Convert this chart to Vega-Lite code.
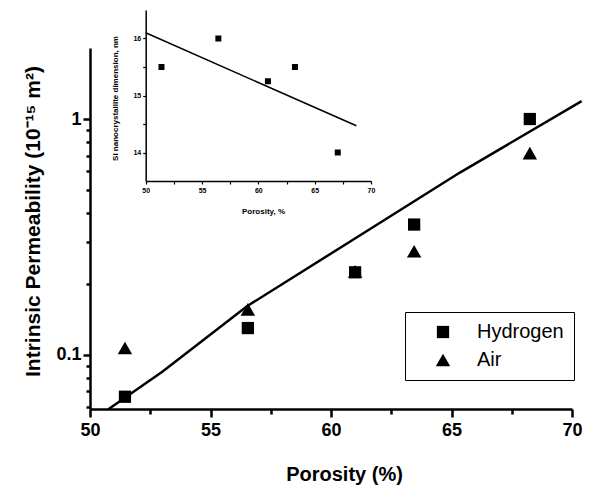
{
  "$schema": "https://vega.github.io/schema/vega-lite/v6.json",
  "width": 482,
  "height": 361,
  "autosize": {"type": "none"},
  "padding": {"left": 90, "top": 48, "right": 18, "bottom": 78},
  "background": "white",
  "config": {"view": {"stroke": null}, "font": "Liberation Sans"},
  "datasets": {
    "mainLine": [
      {"porosity": 50.76, "k": 0.0588},
      {"porosity": 53.0, "k": 0.0849},
      {"porosity": 56.5, "k": 0.1605},
      {"porosity": 60.93, "k": 0.3086},
      {"porosity": 65.35, "k": 0.593},
      {"porosity": 70.4, "k": 1.19}
    ],
    "mainPoints": [
      {"series": "Hydrogen", "porosity": 51.45, "k": 0.0665},
      {"series": "Hydrogen", "porosity": 56.55, "k": 0.130},
      {"series": "Hydrogen", "porosity": 61.0, "k": 0.224},
      {"series": "Hydrogen", "porosity": 63.45, "k": 0.357},
      {"series": "Hydrogen", "porosity": 68.25, "k": 1.0},
      {"series": "Air", "porosity": 51.45, "k": 0.107},
      {"series": "Air", "porosity": 56.55, "k": 0.156},
      {"series": "Air", "porosity": 61.0, "k": 0.226},
      {"series": "Air", "porosity": 63.45, "k": 0.275},
      {"series": "Air", "porosity": 68.25, "k": 0.717}
    ],
    "insetLine": [
      {"porosity": 50.0, "size": 16.1},
      {"porosity": 68.7, "size": 14.47}
    ],
    "insetPoints": [
      {"porosity": 51.4, "size": 15.5},
      {"porosity": 56.45, "size": 16.0},
      {"porosity": 60.85, "size": 15.25},
      {"porosity": 63.25, "size": 15.5},
      {"porosity": 67.05, "size": 14.0}
    ]
  },
  "layer": [
    {
      "layer": [
        {
          "data": {"name": "mainLine"},
          "mark": {"type": "line", "color": "black", "strokeWidth": 2.5},
          "encoding": {
            "x": {
              "field": "porosity", "type": "quantitative",
              "scale": {"domain": [50, 70], "nice": false, "zero": false},
              "axis": {
                "orient": "bottom",
                "values": [50, 55, 60, 65, 70],
                "tickSize": 8, "tickWidth": 2.5, "tickColor": "black",
                "domainWidth": 2.5, "domainColor": "black",
                "grid": false,
                "labelFont": "Liberation Sans", "labelFontWeight": "bold", "labelFontSize": 18,
                "labelColor": "black", "labelPadding": 4, "labelFlush": false, "labelOverlap": false,
                "title": "Porosity (%)", "titleFont": "Liberation Sans", "titleFontSize": 20,
                "titleFontWeight": "bold", "titleColor": "black",
                "titleX": 254, "titleY": 65, "titleBaseline": "middle", "titleAlign": "center"
              }
            },
            "y": {
              "field": "k", "type": "quantitative",
              "scale": {"type": "log", "domain": [0.059, 2.0], "nice": false},
              "axis": {
                "orient": "left",
                "values": [0.1, 1],
                "labelExpr": "datum.value == 1 ? '1' : '0.1'",
                "tickSize": 7, "tickWidth": 2.5, "tickColor": "black",
                "domainWidth": 2.5, "domainColor": "black",
                "grid": false,
                "labelFont": "Liberation Sans", "labelFontWeight": "bold", "labelFontSize": 18,
                "labelColor": "black", "labelPadding": 2, "labelFlush": false, "labelOverlap": false,
                "title": "Intrinsic Permeability (10⁻¹⁵ m²)", "titleFont": "Liberation Sans", "titleFontSize": 21,
                "titleFontWeight": "bold", "titleColor": "black",
                "titleX": -57, "titleY": 173, "titleBaseline": "middle", "titleAlign": "center", "titleAngle": -90
              }
            }
          }
        },
        {
          "data": {"name": "mainPoints"},
          "mark": {"type": "point", "filled": true, "color": "black", "opacity": 1},
          "encoding": {
            "x": {"field": "porosity", "type": "quantitative", "title": "Porosity (%)"},
            "y": {"field": "k", "type": "quantitative", "title": "Intrinsic Permeability (10⁻¹⁵ m²)"},
            "shape": {
              "field": "series", "type": "nominal",
              "scale": {"domain": ["Hydrogen", "Air"], "range": ["square", "triangle-up"]},
              "legend": {
                "orient": "none", "legendX": 315, "legendY": 264,
                "title": null,
                "strokeColor": "black", "fillColor": "white",
                "padding": 10,
                "symbolFillColor": "black", "symbolStrokeColor": "black",
                "symbolOffset": 18, "labelOffset": 24,
                "labelFont": "Liberation Sans", "labelFontSize": 20, "labelColor": "black",
                "rowPadding": 8
              }
            },
            "size": {
              "field": "series", "type": "nominal",
              "scale": {"domain": ["Hydrogen", "Air"], "range": [150, 210]},
              "legend": {
                "orient": "none", "legendX": 315, "legendY": 264,
                "title": null,
                "strokeColor": "black", "fillColor": "white",
                "padding": 10,
                "symbolFillColor": "black", "symbolStrokeColor": "black",
                "symbolOffset": 18, "labelOffset": 24,
                "labelFont": "Liberation Sans", "labelFontSize": 20, "labelColor": "black",
                "rowPadding": 8
              }
            }
          }
        }
      ]
    },
    {
      "layer": [
        {
          "data": {"name": "insetLine"},
          "mark": {"type": "line", "color": "black", "strokeWidth": 1.5},
          "encoding": {
            "x": {
              "field": "porosity", "type": "quantitative",
              "scale": {"domain": [50, 70], "range": [55.7, 281], "nice": false, "zero": false},
              "axis": {
                "orient": "bottom", "offset": -228,
                "values": [50, 52.5, 55, 57.5, 60, 62.5, 65, 67.5, 70],
                "labelExpr": "datum.value % 5 == 0 ? datum.label : ''",
                "tickSize": 3, "tickWidth": 1.2, "tickColor": "black",
                "domainWidth": 1.5, "domainColor": "black",
                "grid": false,
                "labelFont": "Liberation Sans", "labelFontWeight": "bold", "labelFontSize": 7,
                "labelColor": "black", "labelPadding": 2, "labelFlush": false, "labelOverlap": false,
                "title": "Porosity, %", "titleFont": "Liberation Sans", "titleFontSize": 8,
                "titleFontWeight": "bold", "titleColor": "black",
                "titleX": 173, "titleY": 30, "titleBaseline": "middle", "titleAlign": "center"
              }
            },
            "y": {
              "field": "size", "type": "quantitative",
              "scale": {"domain": [13.5, 16.5], "range": [133, -38], "nice": false, "zero": false},
              "axis": {
                "orient": "left", "offset": -55.7,
                "values": [14, 14.5, 15, 15.5, 16],
                "labelExpr": "datum.value % 1 == 0 ? format(datum.value, 'd') : ''",
                "tickSize": 3, "tickWidth": 1.2, "tickColor": "black",
                "domainWidth": 1.5, "domainColor": "black",
                "grid": false,
                "labelFont": "Liberation Sans", "labelFontWeight": "bold", "labelFontSize": 7,
                "labelColor": "black", "labelPadding": 2, "labelFlush": false, "labelOverlap": false,
                "title": "Si nanocrystallite dimension, nm", "titleFont": "Liberation Sans", "titleFontSize": 8,
                "titleFontWeight": "bold", "titleColor": "black",
                "titleX": -30.7, "titleY": 50, "titleBaseline": "middle", "titleAlign": "center", "titleAngle": -90
              }
            }
          }
        },
        {
          "data": {"name": "insetPoints"},
          "mark": {"type": "point", "shape": "square", "filled": true, "color": "black", "opacity": 1, "size": 36},
          "encoding": {
            "x": {"field": "porosity", "type": "quantitative", "title": "Porosity, %"},
            "y": {"field": "size", "type": "quantitative", "title": "Si nanocrystallite dimension, nm"}
          }
        }
      ]
    },
    {
      "data": {"name": "mainPoints"},
      "mark": {"type": "point", "opacity": 0},
      "encoding": {
        "x": {
          "field": "porosity", "type": "quantitative",
          "scale": {"domain": [50, 70], "nice": false, "zero": false},
          "axis": {
            "orient": "bottom",
            "values": [52.5, 57.5, 62.5, 67.5],
            "labels": false, "domain": false, "grid": false, "title": null,
            "tickSize": 5, "tickWidth": 2.5, "tickColor": "black"
          }
        },
        "y": {
          "field": "k", "type": "quantitative",
          "scale": {"type": "log", "domain": [0.059, 2.0], "nice": false},
          "axis": {
            "orient": "left",
            "values": [0.06, 0.07, 0.08, 0.09, 0.2, 0.3, 0.4, 0.5, 0.6, 0.7, 0.8, 0.9],
            "labels": false, "domain": false, "grid": false, "title": null,
            "tickSize": 4, "tickWidth": 2.5, "tickColor": "black"
          }
        }
      }
    }
  ],
  "resolve": {
    "scale": {"x": "independent", "y": "independent"},
    "axis": {"x": "independent", "y": "independent"}
  }
}
